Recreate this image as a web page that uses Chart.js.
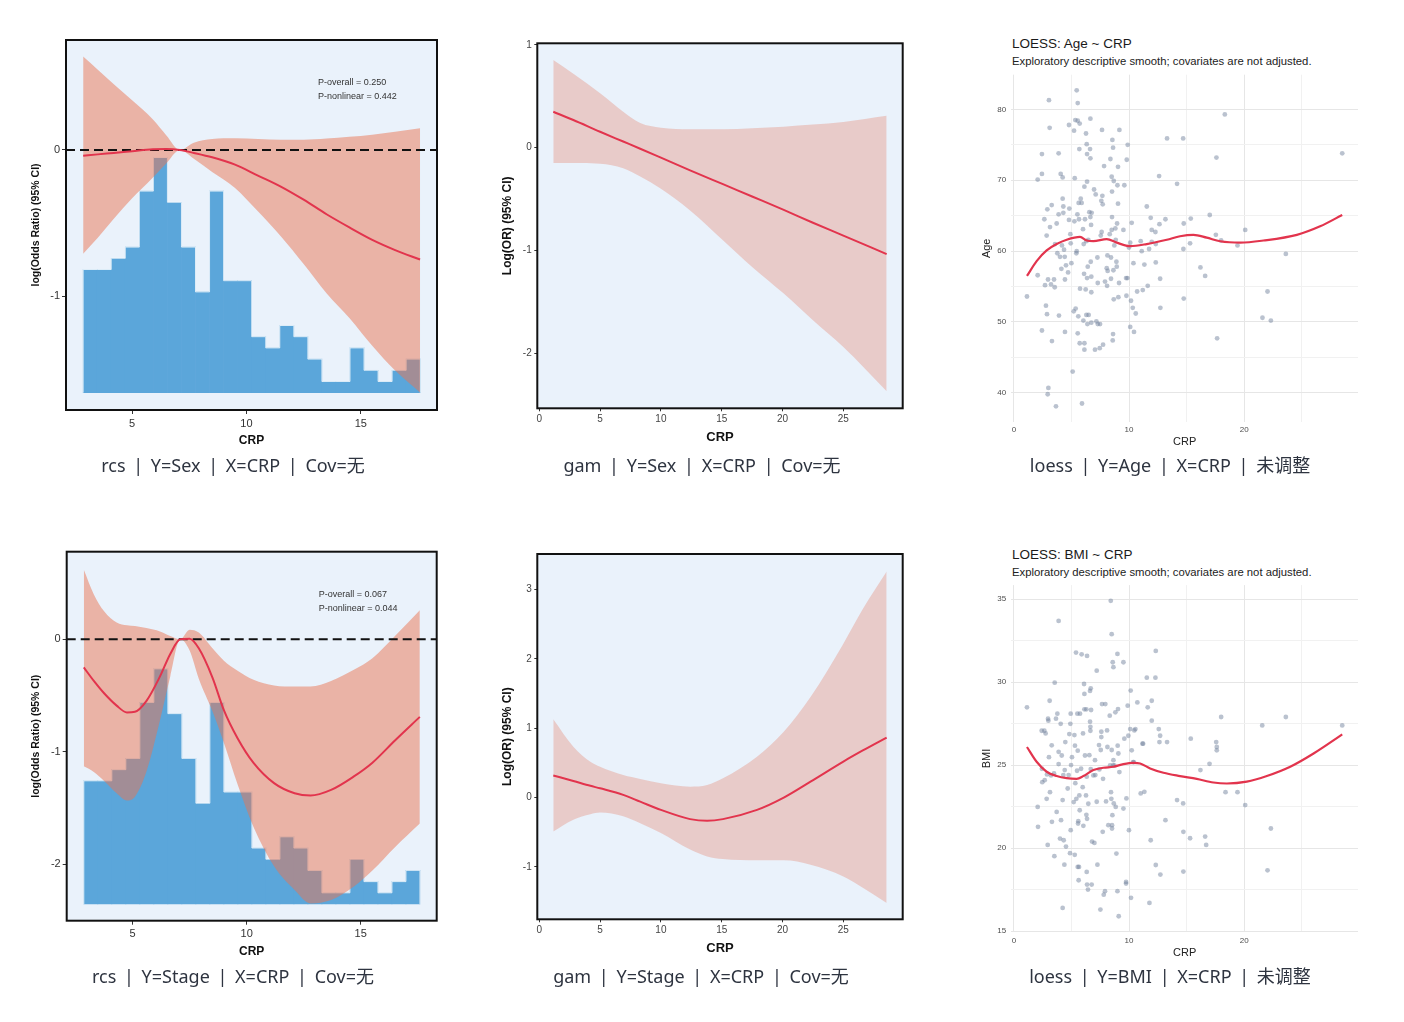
<!DOCTYPE html>
<html lang="zh"><head><meta charset="utf-8"><title>CRP curves</title>
<script src="https://cdn.jsdelivr.net/npm/chart.js@4.4.1/dist/chart.umd.min.js"></script>
<style>
html,body{margin:0;padding:0;background:#fff;}
body{position:relative;width:1404px;height:1022px;overflow:hidden;}
canvas{position:absolute;}
.cap{position:absolute;font-family:"Noto Sans","Noto Sans CJK SC",sans-serif;font-size:18px;color:#2e3440;white-space:pre;transform:translate(-50%,-50%);line-height:1;word-spacing:3px;}
.ttl{position:absolute;font-family:"Liberation Sans",Arial,sans-serif;white-space:pre;line-height:1;transform:translateY(-50%);}
</style></head><body>
<canvas id="c1" width="430" height="425" style="left:20px;top:30px"></canvas>
<canvas id="c2" width="430" height="425" style="left:490px;top:30px"></canvas>
<canvas id="c3" width="395" height="385" style="left:975px;top:70px"></canvas>
<canvas id="c4" width="430" height="425" style="left:20px;top:541px"></canvas>
<canvas id="c5" width="430" height="425" style="left:490px;top:541px"></canvas>
<canvas id="c6" width="395" height="385" style="left:975px;top:580px"></canvas>

<div class="ttl" style="left:1012px;top:44px;font-size:13.5px;color:#1a1a1a">LOESS: Age ~ CRP</div>
<div class="ttl" style="left:1012px;top:62px;font-size:11.3px;color:#222">Exploratory descriptive smooth; covariates are not adjusted.</div>
<div class="ttl" style="left:1012px;top:555px;font-size:13.5px;color:#1a1a1a">LOESS: BMI ~ CRP</div>
<div class="ttl" style="left:1012px;top:573px;font-size:11.3px;color:#222">Exploratory descriptive smooth; covariates are not adjusted.</div>

<div class="cap" style="left:233px;top:465px">rcs | Y=Sex | X=CRP | Cov=无</div>
<div class="cap" style="left:702px;top:465px">gam | Y=Sex | X=CRP | Cov=无</div>
<div class="cap" style="left:1170px;top:465px">loess | Y=Age | X=CRP | 未调整</div>
<div class="cap" style="left:233px;top:976px">rcs | Y=Stage | X=CRP | Cov=无</div>
<div class="cap" style="left:701px;top:976px">gam | Y=Stage | X=CRP | Cov=无</div>
<div class="cap" style="left:1170px;top:976px">loess | Y=BMI | X=CRP | 未调整</div>

<script>
// ================= DATA =================
// CRP histogram (shared by both rcs panels)
const histStart = 2.86;
const histWidth = 0.614;
const histCounts = [11,11,12,13,18,21,17,13,9,18,10,10,5,4,6,5,3,1,1,4,2,1,2,3];

// rcs: Y=Sex
const rcsSexX     = [2.86,3.5,4.2,5.0,5.9,6.5,7.09,7.7,8.5,9.5,10.5,11.5,12.5,13.5,14.5,15.5,16.5,17.59];
const rcsSexFit   = [-0.04,-0.03,-0.02,-0.008,0.005,0.006,0,-0.02,-0.05,-0.10,-0.175,-0.25,-0.34,-0.44,-0.53,-0.615,-0.685,-0.75];
const rcsSexUpper = [0.64,0.55,0.45,0.34,0.21,0.10,0,0.05,0.075,0.08,0.075,0.07,0.07,0.078,0.09,0.105,0.125,0.148];
const rcsSexLower = [-0.71,-0.60,-0.47,-0.33,-0.19,-0.09,0,-0.06,-0.15,-0.26,-0.42,-0.59,-0.78,-0.98,-1.15,-1.34,-1.51,-1.66];
const rcsSexNotes = ['P-overall = 0.250','P-nonlinear = 0.442'];

// rcs: Y=Stage
const rcsStageX     = [2.86,3.3,3.75,4.3,4.75,5.1,5.6,6.2,6.65,7.09,7.5,7.9,8.5,9.0,9.6,10.3,11.2,12.1,12.8,13.7,14.7,15.5,16.5,17.59];
const rcsStageFit   = [-0.25,-0.37,-0.48,-0.59,-0.65,-0.645,-0.55,-0.33,-0.13,0,0.005,-0.08,-0.34,-0.63,-0.88,-1.10,-1.28,-1.37,-1.39,-1.34,-1.22,-1.10,-0.90,-0.69];
const rcsStageUpper = [0.62,0.40,0.25,0.15,0.125,0.118,0.10,0.07,0.03,0,0.085,0.06,-0.08,-0.19,-0.28,-0.36,-0.41,-0.42,-0.42,-0.37,-0.27,-0.17,0.03,0.26];
const rcsStageLower = [-1.13,-1.18,-1.26,-1.37,-1.435,-1.40,-1.18,-0.72,-0.33,0,-0.10,-0.35,-0.64,-0.92,-1.29,-1.67,-2.02,-2.23,-2.35,-2.32,-2.20,-2.06,-1.85,-1.64];
const rcsStageNotes = ['P-overall = 0.067','P-nonlinear = 0.044'];

// gam: Y=Sex
const gamSexX     = [1.15,2.8,5.0,6.9,8.3,10.0,12.4,15.1,17.5,20.1,22.5,25.0,28.56];
const gamSexFit   = [0.35,0.27,0.155,0.06,-0.01,-0.097,-0.22,-0.355,-0.475,-0.605,-0.73,-0.855,-1.035];
const gamSexUpper = [0.853,0.72,0.53,0.35,0.24,0.195,0.18,0.18,0.19,0.205,0.225,0.25,0.31];
const gamSexLower = [-0.15,-0.15,-0.155,-0.2,-0.28,-0.40,-0.61,-0.90,-1.16,-1.42,-1.68,-1.94,-2.37];

// gam: Y=Stage
const gamStageX     = [1.15,2.8,4.2,5.0,6.9,8.3,10.0,12.4,13.8,15.1,17.9,20.1,22.3,25.0,26.6,28.56];
const gamStageFit   = [0.32,0.24,0.17,0.134,0.04,-0.058,-0.177,-0.31,-0.335,-0.31,-0.177,0.0,0.23,0.52,0.68,0.867];
const gamStageUpper = [1.13,0.733,0.517,0.446,0.326,0.27,0.206,0.158,0.182,0.278,0.589,0.949,1.45,2.22,2.72,3.26];
const gamStageLower = [-0.489,-0.32,-0.24,-0.216,-0.27,-0.37,-0.51,-0.75,-0.848,-0.886,-0.905,-0.905,-0.968,-1.136,-1.30,-1.52];

// loess: Age ~ CRP  (observations as [CRP, Age])
const ageObs = [[1.13,53.6],[2.06,70.1],[2.06,56.6],[2.43,73.7],[2.43,70.9],[2.43,48.8],[2.64,64.5],[2.7,55.2],[2.78,52.3],[2.84,62.2],[2.87,51.1],[2.9,65.9],[2.96,56.0],[2.99,40.7],[2.93,39.8],[3.04,81.3],[3.1,77.4],[3.13,63.4],[3.22,55.3],[3.28,66.5],[3.3,47.3],[3.48,56.0],[3.54,54.9],[3.57,61.0],[3.65,38.1],[3.71,63.9],[3.77,59.7],[3.88,73.8],[3.88,65.2],[3.91,50.9],[4.0,59.2],[4.06,70.9],[4.12,57.5],[4.17,60.8],[4.23,70.4],[4.23,67.4],[4.29,66.3],[4.29,65.4],[4.35,60.2],[4.41,59.2],[4.43,56.0],[4.43,48.6],[4.52,58.0],[4.7,57.0],[4.78,77.8],[4.78,64.4],[4.81,66.0],[4.9,62.4],[4.93,61.1],[4.99,58.3],[5.1,43.0],[5.19,51.5],[5.22,77.0],[5.25,64.2],[5.28,70.3],[5.33,78.5],[5.36,51.9],[5.42,59.7],[5.45,82.7],[5.45,60.0],[5.51,65.2],[5.54,80.9],[5.54,78.4],[5.54,48.4],[5.59,50.8],[5.62,66.8],[5.65,64.5],[5.68,74.4],[5.71,78.0],[5.71,47.0],[5.74,54.7],[5.8,67.4],[5.88,66.8],[5.91,38.5],[6.0,63.1],[6.03,50.2],[6.06,61.0],[6.09,56.8],[6.12,69.1],[6.12,47.0],[6.12,46.1],[6.17,64.5],[6.23,54.6],[6.26,76.6],[6.29,61.4],[6.29,51.0],[6.32,75.1],[6.35,69.8],[6.35,56.2],[6.35,73.7],[6.38,49.7],[6.41,57.8],[6.46,61.6],[6.49,51.0],[6.55,65.5],[6.61,74.4],[6.64,73.1],[6.64,78.7],[6.64,64.8],[6.67,58.5],[6.7,63.7],[6.72,56.4],[6.75,65.4],[6.72,49.9],[6.72,54.2],[6.96,68.7],[7.04,46.1],[7.1,68.0],[7.16,50.1],[7.25,59.1],[7.28,55.5],[7.28,49.7],[7.45,46.3],[7.48,49.7],[7.54,62.2],[7.59,67.1],[7.62,62.7],[7.65,77.1],[7.68,67.8],[7.71,66.6],[7.74,46.8],[7.83,72.0],[7.91,55.7],[8.06,57.6],[8.09,55.1],[8.12,59.4],[8.14,57.2],[8.32,62.4],[8.38,73.0],[8.43,59.1],[8.43,56.1],[8.49,63.0],[8.49,70.5],[8.52,68.4],[8.52,64.8],[8.55,75.7],[8.58,47.4],[8.61,48.3],[8.61,74.6],[8.64,57.3],[8.67,53.2],[8.67,69.9],[8.72,60.8],[8.81,63.2],[8.84,61.6],[8.9,58.5],[8.93,57.8],[8.96,63.9],[8.99,69.3],[9.04,71.9],[9.04,66.7],[9.07,53.5],[9.13,55.5],[9.16,77.1],[9.51,63.0],[9.59,69.3],[9.74,56.2],[9.77,53.7],[9.8,72.9],[9.86,56.2],[9.88,75.0],[9.99,60.5],[10.1,61.2],[10.1,49.3],[10.17,53.0],[10.23,64.0],[10.32,52.0],[10.38,58.3],[10.43,48.6],[10.58,51.2],[10.7,54.3],[11.01,61.4],[11.1,60.0],[11.19,54.5],[11.33,58.1],[11.54,66.3],[11.62,55.1],[11.74,60.3],[11.88,64.7],[11.97,63.0],[11.97,61.3],[12.29,62.7],[12.32,58.4],[12.32,61.0],[12.61,70.6],[12.64,63.8],[12.7,56.1],[12.72,52.0],[13.16,64.5],[13.3,75.9],[14.17,69.5],[14.7,75.9],[14.72,60.3],[14.75,63.9],[14.75,53.3],[15.3,61.1],[15.36,64.6],[16.2,57.7],[16.61,56.5],[17.01,65.1],[17.54,62.3],[17.59,73.2],[17.65,47.7],[18.0,61.5],[18.32,79.3],[19.42,60.8],[20.09,63.0],[21.59,50.6],[22.03,54.3],[22.32,50.2],[23.62,59.6],[28.52,73.8]];
const ageLoessX = [1.13,1.97,2.84,3.71,4.58,5.74,6.32,6.9,8.06,8.93,10.09,11.54,13.28,14.43,15.59,16.75,17.91,19.65,21.68,24.58,26.6,28.52];
const ageLoessY = [56.5,58.6,60.1,61.0,61.6,62.0,61.5,61.4,61.7,61.2,60.7,61.0,61.6,62.1,62.3,61.9,61.4,61.2,61.5,62.3,63.5,65.1];

// loess: BMI ~ CRP  (observations as [CRP, BMI])
const bmiObs = [[1.13,28.48],[2.06,22.48],[2.09,21.28],[2.41,27.07],[2.43,24.78],[2.46,23.97],[2.64,27.07],[2.67,24.09],[2.75,26.91],[2.84,22.97],[2.87,24.44],[2.93,20.19],[2.96,27.8],[2.99,27.68],[3.04,25.48],[3.1,28.88],[3.13,23.37],[3.22,24.38],[3.28,26.19],[3.3,21.58],[3.48,24.5],[3.51,19.51],[3.54,29.97],[3.65,27.8],[3.71,22.18],[3.77,28.1],[3.88,33.69],[3.88,25.8],[3.88,25.06],[4.0,20.57],[4.06,27.49],[4.09,21.68],[4.15,25.58],[4.23,22.89],[4.23,16.39],[4.29,24.4],[4.32,20.47],[4.38,19.0],[4.41,24.7],[4.46,26.39],[4.52,20.09],[4.67,23.59],[4.75,24.4],[4.81,26.87],[4.87,19.69],[4.9,27.49],[4.93,28.1],[4.96,25.0],[4.93,21.08],[5.04,25.48],[5.19,22.77],[5.25,26.81],[5.28,19.59],[5.3,26.17],[5.33,23.91],[5.39,31.78],[5.42,22.97],[5.48,24.66],[5.51,28.1],[5.54,25.87],[5.54,18.86],[5.57,21.48],[5.59,21.62],[5.62,18.06],[5.65,18.86],[5.68,23.17],[5.71,22.28],[5.74,28.1],[5.83,24.78],[5.88,31.68],[5.97,23.67],[6.0,26.91],[6.03,21.34],[6.09,29.89],[6.12,29.29],[6.12,28.36],[6.17,25.58],[6.26,23.17],[6.29,28.36],[6.29,22.0],[6.32,24.3],[6.32,18.56],[6.35,31.58],[6.35,21.76],[6.35,17.8],[6.43,17.5],[6.46,22.67],[6.55,25.6],[6.61,29.47],[6.61,27.62],[6.64,27.31],[6.64,27.07],[6.67,29.63],[6.67,24.76],[6.7,28.32],[6.75,17.8],[6.78,20.39],[6.9,24.38],[6.99,20.31],[7.04,25.3],[7.07,24.4],[7.19,30.69],[7.19,22.79],[7.25,19.0],[7.39,26.21],[7.42,24.74],[7.51,16.29],[7.54,25.91],[7.59,27.01],[7.59,26.69],[7.65,28.68],[7.71,20.98],[7.74,24.17],[7.8,17.19],[7.91,17.4],[7.94,28.68],[8.0,22.81],[8.09,27.09],[8.12,26.09],[8.2,21.38],[8.32,27.98],[8.35,24.98],[8.41,34.9],[8.43,23.37],[8.46,22.97],[8.49,32.89],[8.49,25.91],[8.52,21.38],[8.52,21.18],[8.55,21.98],[8.58,31.2],[8.61,24.98],[8.64,30.9],[8.64,25.3],[8.67,22.69],[8.72,24.98],[8.81,28.18],[8.84,22.48],[8.9,19.67],[8.99,31.7],[8.99,17.4],[9.01,26.17],[9.04,28.38],[9.07,25.7],[9.1,15.89],[9.16,24.58],[9.51,31.2],[9.51,22.38],[9.59,26.59],[9.74,17.96],[9.74,17.86],[9.77,22.99],[9.88,28.58],[9.94,26.77],[9.99,21.08],[10.1,27.17],[10.14,29.49],[10.17,17.0],[10.23,25.89],[10.35,25.18],[10.41,25.18],[10.46,27.09],[10.55,27.17],[10.72,28.78],[11.01,23.29],[11.16,26.29],[11.22,26.29],[11.33,23.39],[11.54,30.27],[11.62,28.48],[11.77,16.69],[11.88,20.47],[11.97,28.88],[11.97,27.68],[12.29,30.27],[12.32,31.88],[12.32,18.98],[12.58,27.17],[12.64,26.39],[12.7,26.77],[12.72,18.4],[13.16,21.68],[13.3,26.39],[14.17,22.89],[14.7,22.69],[14.72,20.98],[14.72,18.58],[15.36,26.59],[15.3,20.59],[16.2,24.7],[16.61,20.69],[16.7,20.19],[16.99,25.08],[17.57,26.39],[17.62,26.09],[17.62,25.89],[18.0,27.9],[18.38,23.37],[19.42,23.37],[20.09,22.59],[21.57,27.39],[22.03,18.66],[22.32,21.18],[23.62,27.9],[28.52,27.39]];
const bmiLoessX = [1.13,1.97,2.84,3.71,4.58,5.45,6.03,6.9,7.77,8.64,9.51,10.38,10.96,11.83,12.99,14.43,15.88,17.33,18.49,20.23,21.97,24.0,26.03,28.52];
const bmiLoessY = [26.09,25.2,24.6,24.34,24.21,24.17,24.34,24.7,24.84,24.9,25.06,25.14,25.1,24.8,24.54,24.34,24.17,23.95,23.89,24.0,24.34,24.9,25.7,26.85];

// tick values
const rcsXTicks = [5,10,15];
const rcsSexYTicks = [-1,0];
const rcsStageYTicks = [-2,-1,0];
const gamXTicks = [0,5,10,15,20,25];
const gamSexYTicks = [-2,-1,0,1];
const gamStageYTicks = [-1,0,1,2,3];
const loessXGrid = [0,5,10,15,20,25];
const loessXLabels = [0,10,20];
const ageYGrid = [40,45,50,55,60,65,70,75,80];
const ageYLabels = [40,50,60,70,80];
const bmiYGrid = [15,17.5,20,22.5,25,27.5,30,32.5,35];
const bmiYLabels = [15,20,25,30,35];

// ================= STYLE / HELPERS =================
const FONT = "'Liberation Sans', Arial, Helvetica, sans-serif";
const RED = '#e2344d';
const PANEL_BG = '#eaf2fb';

const pts = (xs, ys) => xs.map((x, i) => ({x: x, y: ys[i]}));
const setTicks = list => (s => { s.ticks = list.map(v => ({value: v})); });
const fitX = h => (s => { s.height = h; s.paddingLeft = 0; s.paddingRight = 0; });
const fitY = w => (s => { s.width = w; s.paddingTop = 0; s.paddingBottom = 0; });

const panelPlugin = {
  id: 'panel',
  beforeDraw(chart, args, o) {
    if (!o.bg) return;
    const a = chart.chartArea, ctx = chart.ctx;
    ctx.save(); ctx.fillStyle = o.bg;
    ctx.fillRect(a.left, a.top, a.right - a.left, a.bottom - a.top);
    ctx.restore();
  },
  // dashed reference line: drawn after the CI band, before the fitted curve
  afterDatasetDraw(chart, args, o) {
    if (typeof o.ref !== 'number' || args.index !== o.refAfter) return;
    const a = chart.chartArea, ctx = chart.ctx;
    const y = chart.scales.y.getPixelForValue(o.ref);
    ctx.save(); ctx.strokeStyle = '#111'; ctx.lineWidth = 2; ctx.setLineDash([9, 5]);
    ctx.beginPath(); ctx.moveTo(a.left, y); ctx.lineTo(a.right, y); ctx.stroke();
    ctx.restore();
  },
  afterDraw(chart, args, o) {
    const a = chart.chartArea, ctx = chart.ctx;
    if (o.notes && o.notes.length) {
      ctx.save(); ctx.font = '9px ' + FONT; ctx.fillStyle = '#333';
      ctx.textBaseline = 'middle'; ctx.textAlign = 'left';
      for (let i = 0; i < o.notes.length; i++) ctx.fillText(o.notes[i], a.left + o.noteDx, a.top + o.noteDy + i * 14);
      ctx.restore();
    }
    if (o.frame) {
      ctx.save(); ctx.strokeStyle = '#111'; ctx.lineWidth = 2;
      ctx.strokeRect(a.left, a.top, a.right - a.left, a.bottom - a.top);
      ctx.restore();
    }
  }
};

function framedAxes(c) {
  return {
    x: {
      type: 'linear', min: c.xMin, max: c.xMax, offset: false,
      afterBuildTicks: setTicks(c.xTicks),
      afterFit: fitX(c.xH),
      grid: {display: true, offset: false, drawOnChartArea: false, drawTicks: true, tickLength: c.tickLen, color: '#333', lineWidth: 1},
      border: {display: false},
      ticks: {font: {family: FONT, size: c.tickSize}, color: c.tickColor, padding: c.xTickPad, maxRotation: 0, autoSkip: false},
      title: {display: true, text: 'CRP', color: '#111', font: {family: FONT, size: c.xTitleSize, weight: 'bold'}, padding: {top: 0, bottom: c.xTitlePad}}
    },
    y: {
      type: 'linear', min: c.yMin, max: c.yMax,
      afterBuildTicks: setTicks(c.yTicks),
      afterFit: fitY(c.yW),
      grid: {display: true, drawOnChartArea: false, drawTicks: true, tickLength: c.tickLen, color: '#333', lineWidth: 1},
      border: {display: false},
      ticks: {font: {family: FONT, size: c.tickSize}, color: c.tickColor, padding: c.yTickPad, autoSkip: false},
      title: {display: true, text: c.yTitle, color: '#111', font: {family: FONT, size: c.yTitleSize, weight: 'bold'}, padding: {top: c.yTitlePad, bottom: 0}}
    }
  };
}

function rcsChart(id, c) {
  const hist = histCounts.map((n, i) => ({x: histStart + (i + 0.5) * histWidth, y: n}));
  // silhouette outline of the same histogram (bin edges)
  const outline = [{x: histStart, y: 0}];
  histCounts.forEach((n, i) => outline.push({x: histStart + i * histWidth, y: n}));
  outline.push({x: histStart + histCounts.length * histWidth, y: histCounts[histCounts.length - 1]});
  outline.push({x: histStart + histCounts.length * histWidth, y: 0});
  const scales = framedAxes(c);
  scales.yh = {type: 'linear', display: false, min: c.hMin, max: c.hMax};
  new Chart(document.getElementById(id), {
    type: 'line',
    data: {datasets: [
      {data: pts(c.x, c.fit), borderColor: RED, borderWidth: 2, pointRadius: 0, fill: false, cubicInterpolationMode: 'monotone', order: 0},
      {data: pts(c.x, c.upper), borderColor: 'rgba(0,0,0,0)', borderWidth: 0, pointRadius: 0, backgroundColor: 'rgba(233,116,82,0.5)', fill: '+1', cubicInterpolationMode: 'monotone', order: 1},
      {data: pts(c.x, c.lower), borderColor: 'rgba(0,0,0,0)', borderWidth: 0, pointRadius: 0, fill: false, cubicInterpolationMode: 'monotone', order: 2},
      {data: outline, yAxisID: 'yh', stepped: 'before', borderColor: 'rgba(255,255,255,0.75)', borderWidth: 1, pointRadius: 0, fill: false, order: 3},
      {type: 'bar', data: hist, xAxisID: 'x', yAxisID: 'yh', backgroundColor: '#5ba6da', borderWidth: 0, barPercentage: 1, categoryPercentage: 1, order: 4}
    ]},
    options: {
      responsive: false, animation: false, events: [],
      layout: {padding: {top: c.padTop, right: c.padRight, left: 0, bottom: 0}},
      plugins: {legend: {display: false}, tooltip: {enabled: false},
        panel: {bg: PANEL_BG, frame: true, ref: 0, refAfter: 1, notes: c.notes, noteDx: 252, noteDy: 43}},
      scales: scales
    },
    plugins: [panelPlugin]
  });
}

function gamChart(id, c) {
  new Chart(document.getElementById(id), {
    type: 'line',
    data: {datasets: [
      {data: pts(c.x, c.fit), borderColor: RED, borderWidth: 2, pointRadius: 0, fill: false, cubicInterpolationMode: 'monotone', order: 0},
      {data: pts(c.x, c.upper), borderColor: 'rgba(0,0,0,0)', borderWidth: 0, pointRadius: 0, backgroundColor: 'rgba(228,140,120,0.38)', fill: '+1', cubicInterpolationMode: 'monotone', order: 1},
      {data: pts(c.x, c.lower), borderColor: 'rgba(0,0,0,0)', borderWidth: 0, pointRadius: 0, fill: false, cubicInterpolationMode: 'monotone', order: 2}
    ]},
    options: {
      responsive: false, animation: false, events: [],
      layout: {padding: {top: c.padTop, right: c.padRight, left: 0, bottom: 0}},
      plugins: {legend: {display: false}, tooltip: {enabled: false}, panel: {bg: PANEL_BG, frame: true}},
      scales: framedAxes(c)
    },
    plugins: [panelPlugin]
  });
}

function loessChart(id, c) {
  const gridCol = labels => (ctx => labels.includes(ctx.tick.value) ? '#e6e6e6' : '#f1f1f1');
  new Chart(document.getElementById(id), {
    type: 'line',
    data: {datasets: [
      {data: pts(c.lx, c.ly), borderColor: RED, borderWidth: 2.2, pointRadius: 0, fill: false, cubicInterpolationMode: 'monotone', order: 0},
      {data: c.obs.map(p => ({x: p[0], y: p[1]})), showLine: false, pointRadius: 2.4, pointBorderWidth: 0,
       pointBackgroundColor: 'rgba(110,128,155,0.48)', pointBorderColor: 'rgba(0,0,0,0)', order: 1}
    ]},
    options: {
      responsive: false, animation: false, events: [],
      layout: {padding: {top: c.padTop, right: c.padRight, left: 0, bottom: 0}},
      plugins: {legend: {display: false}, tooltip: {enabled: false}},
      scales: {
        x: {type: 'linear', min: c.xMin, max: c.xMax, offset: false,
          afterBuildTicks: setTicks(loessXGrid),
          afterFit: fitX(c.xH),
          grid: {drawTicks: false, color: gridCol(loessXLabels), lineWidth: 1},
          border: {display: false},
          ticks: {font: {family: FONT, size: 8}, color: '#4d4d4d', padding: c.xTickPad, maxRotation: 0, autoSkip: false,
            callback: v => loessXLabels.includes(v) ? String(v) : ''},
          title: {display: true, text: 'CRP', color: '#222', font: {family: FONT, size: 11}, padding: {top: 0, bottom: c.xTitlePad}}
        },
        y: {type: 'linear', min: c.yMin, max: c.yMax,
          afterBuildTicks: setTicks(c.yGrid),
          afterFit: fitY(c.yW),
          grid: {drawTicks: false, color: gridCol(c.yLabels), lineWidth: 1},
          border: {display: false},
          ticks: {font: {family: FONT, size: 8}, color: '#4d4d4d', padding: 5, autoSkip: false,
            callback: v => c.yLabels.includes(v) ? String(v) : ''},
          title: {display: true, text: c.yTitle, color: '#222', font: {family: FONT, size: 11}, padding: {top: c.yTitlePad, bottom: 0}}
        }
      }
    }
  });
}

// ================= BUILD =================
const rcsCommon = {xMin: 2.11, xMax: 18.33, xTicks: rcsXTicks, tickLen: 4, tickSize: 11, tickColor: '#333',
  xTickPad: 3, yTickPad: 2, xTitleSize: 12, xTitlePad: 7.1, yTitle: 'log(Odds Ratio) (95% CI)', yTitleSize: 10.5, yTitlePad: 9.7,
  yW: 46, padRight: 13, xH: 45};
rcsChart('c1', Object.assign({}, rcsCommon, {x: rcsSexX, fit: rcsSexFit, upper: rcsSexUpper, lower: rcsSexLower,
  yMin: -1.78, yMax: 0.753, yTicks: rcsSexYTicks, padTop: 10, hMin: -1.545, hMax: 31.49, notes: rcsSexNotes}));
rcsChart('c4', Object.assign({}, rcsCommon, {x: rcsStageX, fit: rcsStageFit, upper: rcsStageUpper, lower: rcsStageLower,
  yMin: -2.504, yMax: 0.78, yTicks: rcsStageYTicks, padTop: 10.7, yW: 46.7, padRight: 13.3, xH: 45.3, hMin: -1.49, hMax: 31.46, notes: rcsStageNotes}));

const gamCommon = {xMin: -0.164, xMax: 29.88, xTicks: gamXTicks, tickLen: 3, tickSize: 10, tickColor: '#444',
  xTickPad: 1.5, yTickPad: 2.6, xTitleSize: 13, xTitlePad: 9.9, yTitle: 'Log(OR) (95% CI)', yTitleSize: 12, yTitlePad: 10.1,
  yW: 47.3, padRight: 17.3, xH: 46.7};
gamChart('c2', Object.assign({}, gamCommon, {x: gamSexX, fit: gamSexFit, upper: gamSexUpper, lower: gamSexLower,
  yMin: -2.536, yMax: 1.016, yTicks: gamSexYTicks, padTop: 13.3}));
gamChart('c5', Object.assign({}, gamCommon, {x: gamStageX, fit: gamStageFit, upper: gamStageUpper, lower: gamStageLower,
  yMin: -1.755, yMax: 3.514, yTicks: gamStageYTicks, padTop: 13}));

loessChart('c3', {obs: ageObs, lx: ageLoessX, ly: ageLoessY, xMin: -0.24, xMax: 29.89, yMin: 35.9, yMax: 84.9,
  yGrid: ageYGrid, yLabels: ageYLabels, yTitle: 'Age', yW: 36.2, padRight: 12, padTop: 4.7, xH: 33.1, xTickPad: 3.5, xTitlePad: 6.7, yTitlePad: 5.1});
loessChart('c6', {obs: bmiObs, lx: bmiLoessX, ly: bmiLoessY, xMin: -0.24, xMax: 29.89, yMin: 14.94, yMax: 35.85,
  yGrid: bmiYGrid, yLabels: bmiYLabels, yTitle: 'BMI', yW: 36.2, padRight: 12, padTop: 5.1, xH: 33, xTickPad: 4, xTitlePad: 5.7, yTitlePad: 5.1});
</script>
</body></html>
